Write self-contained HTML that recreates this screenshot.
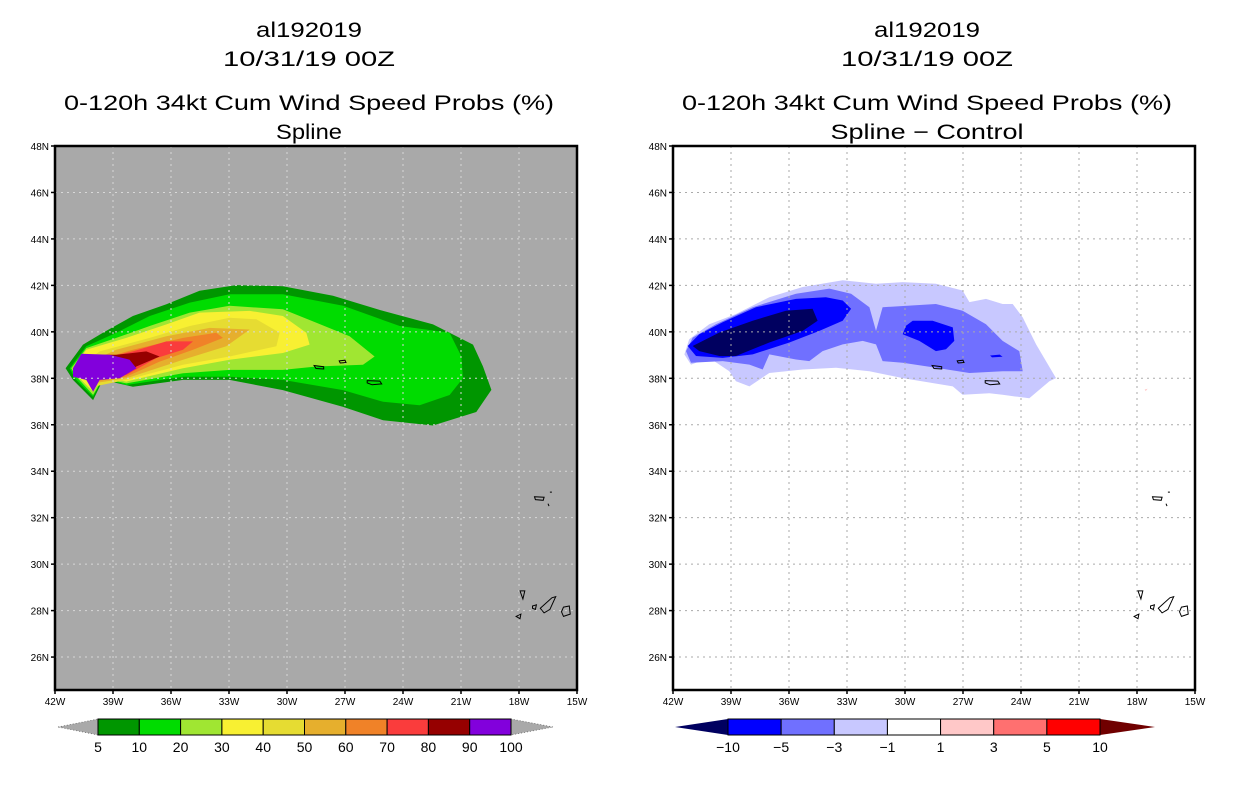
<!DOCTYPE html>
<html><head><meta charset="utf-8"><style>
html,body{margin:0;padding:0;background:#fff;}
svg{display:block;font-family:"Liberation Sans",sans-serif;}
</style></head><body>
<svg id="chart" width="1236" height="800" viewBox="0 0 1236 800" xmlns="http://www.w3.org/2000/svg"></svg>
<script>
// ---- data (lon, lat in degrees; negative lon = W) ----
const lonTicks = [-42,-39,-36,-33,-30,-27,-24,-21,-18,-15];
const latTicks = [26,28,30,32,34,36,38,40,42,44,46,48];
const lonTickLabels = ["42W","39W","36W","33W","30W","27W","24W","21W","18W","15W"];
const latTickLabels = ["26N","28N","30N","32N","34N","36N","38N","40N","42N","44N","46N","48N"];

const probLevels = [5,10,20,30,40,50,60,70,80,90,100];
const probColors = ["#009600","#00dc00","#a0e632","#f8f032","#e6dc32","#e6af2d","#f08228","#fa3c3c","#960000","#8200dc"];
const prob5 = [[-41.45,38.43],[-40.55,39.45],[-39.52,39.96],[-37.97,40.68],[-36.24,41.19],[-34.52,41.77],[-32.62,42.01],[-30.21,41.96],[-27.62,41.55],[-25.03,40.9],[-22.45,40.32],[-20.38,39.45],[-19.86,38.51],[-19.43,37.5],[-20.21,36.55],[-22.45,35.97],[-25.03,36.19],[-27.1,36.77],[-30.21,37.49],[-32.97,37.93],[-35.38,37.93],[-37.97,37.64],[-39.52,37.93],[-40.03,37.06],[-41.07,37.93]];
const prob10 = [[-41.24,38.43],[-40.38,39.38],[-38.83,39.96],[-37.1,40.68],[-35.03,41.26],[-32.97,41.62],[-30.21,41.62],[-27.1,41.12],[-24.17,40.25],[-21.59,39.96],[-20.98,38.94],[-20.9,38.0],[-21.59,37.28],[-23.14,36.84],[-25.03,36.99],[-27.1,37.49],[-30.21,37.93],[-32.97,38.07],[-35.38,38.07],[-38.31,37.71],[-39.52,38.0],[-40.03,37.2],[-40.98,38.0]];
const prob20 = [[-41.16,38.43],[-40.38,39.3],[-38.83,39.74],[-37.1,40.25],[-35.03,40.83],[-32.97,41.12],[-30.21,40.97],[-28.48,40.39],[-26.76,39.81],[-25.47,38.94],[-26.07,38.58],[-28.48,38.51],[-30.21,38.36],[-32.97,38.36],[-35.38,38.22],[-38.31,37.78],[-39.52,38.0],[-40.03,37.28],[-40.9,38.07]];
const prob30 = [[-41.07,38.43],[-40.38,39.23],[-38.31,39.74],[-36.24,40.32],[-34.52,40.83],[-31.93,40.9],[-30.21,40.68],[-29.0,39.96],[-28.83,39.45],[-30.21,39.09],[-32.97,38.8],[-35.38,38.43],[-38.31,37.86],[-39.52,38.07],[-40.03,37.42],[-40.81,38.07]];
const prob40 = [[-40.9,38.43],[-39.69,39.16],[-37.1,39.74],[-35.03,40.25],[-32.97,40.61],[-31.59,40.54],[-30.38,39.96],[-30.55,39.38],[-32.97,38.94],[-35.38,38.58],[-38.31,37.93],[-40.03,37.64],[-40.72,38.14]];
const prob50 = [[-40.72,38.51],[-38.83,39.23],[-36.24,39.81],[-34.0,40.17],[-31.93,40.1],[-33.14,39.38],[-35.38,38.8],[-38.31,38.0],[-40.03,37.78],[-40.64,38.22]];
const prob60 = [[-40.64,38.58],[-37.97,39.23],[-35.38,39.74],[-33.66,39.96],[-33.31,39.74],[-34.86,39.23],[-36.59,38.72],[-38.31,38.07],[-40.03,37.86],[-40.55,38.29]];
const prob70 = [[-40.55,38.65],[-37.97,39.16],[-36.24,39.59],[-34.86,39.59],[-35.38,39.23],[-36.76,38.87],[-38.31,38.14],[-40.03,37.93],[-40.5,38.33]];
const prob80 = [[-40.47,39.01],[-38.83,39.01],[-37.28,39.16],[-36.59,38.94],[-37.79,38.51],[-38.57,38.07],[-40.03,37.96],[-40.47,38.36]];
const prob90 = [[-41.07,38.43],[-40.64,39.06],[-39.17,39.01],[-38.14,38.8],[-37.79,38.43],[-38.66,38.0],[-39.69,37.93],[-40.03,37.42],[-40.38,37.93],[-41.07,38.07]];
const probSeries = [prob5,prob10,prob20,prob30,prob40,prob50,prob60,prob70,prob80,prob90];

const diffLevels = [-10,-5,-3,-1,1,3,5,10];
const diffColors = ["#000060","#0000ff","#7070ff","#c8c8ff","#ffffff","#ffc8c8","#ff7070","#ff0000","#700000"];
const diffM1 = [[-41.41,39.03],[-41.16,39.68],[-40.12,40.33],[-38.74,40.77],[-37.02,41.49],[-35.29,41.93],[-33.22,42.22],[-31.5,42.07],[-30.12,42.14],[-28.4,42.07],[-27.02,41.78],[-26.67,41.28],[-25.81,41.42],[-24.95,41.2],[-24.43,41.2],[-23.91,40.62],[-23.22,39.46],[-22.19,38.01],[-22.53,37.87],[-23.57,37.14],[-24.95,37.29],[-25.64,37.36],[-27.02,37.29],[-27.53,37.65],[-30.12,38.01],[-31.84,38.3],[-33.57,38.45],[-35.29,38.38],[-37.02,38.23],[-38.05,37.65],[-38.74,37.87],[-39.09,38.3],[-40.12,38.88],[-41.07,38.59]];
const diffM3 = [[-41.33,39.17],[-40.98,39.75],[-39.78,40.33],[-37.88,41.06],[-35.64,41.64],[-33.91,41.86],[-32.79,41.64],[-31.84,41.06],[-31.5,40.04],[-31.16,41.06],[-28.4,41.2],[-27.02,40.91],[-25.81,40.33],[-24.95,39.61],[-24.09,39.17],[-23.91,38.3],[-24.95,38.3],[-26.67,38.23],[-28.4,38.45],[-30.12,38.67],[-31.16,38.74],[-31.5,39.46],[-32.19,39.61],[-33.22,39.46],[-34.26,39.17],[-34.95,38.74],[-35.64,38.81],[-37.02,39.03],[-37.36,38.38],[-38.05,38.59],[-39.43,38.74],[-41.07,38.67]];
const diffM5a = [[-41.24,39.39],[-40.64,39.9],[-39.43,40.41],[-37.71,41.06],[-35.64,41.42],[-34.09,41.49],[-33.22,41.35],[-32.79,40.99],[-33.22,40.48],[-34.43,40.04],[-35.98,39.54],[-37.88,39.03],[-39.43,38.88],[-40.81,38.96]];
const diffM5b = [[-29.95,40.26],[-29.6,40.48],[-28.57,40.48],[-27.53,40.19],[-27.45,39.61],[-27.88,39.25],[-28.4,39.17],[-29.26,39.61],[-30.12,39.9]];
const diffM5c = [[-25.6,38.98],[-25.1,39.02],[-24.95,38.93],[-25.5,38.9]];
const diffM10 = [[-40.98,39.39],[-39.6,39.97],[-37.88,40.48],[-36.16,40.91],[-34.78,40.99],[-34.52,40.48],[-35.29,40.04],[-37.02,39.54],[-38.74,38.96],[-39.6,38.96],[-40.64,39.17]];
const diffPos = [[-17.6,37.52],[-17.45,37.55],[-17.55,37.45]];
const diffSeries = [diffM1,diffM3,diffM5a,diffM5b,diffM5c,diffM10];
const diffSeriesColors = ["#c8c8ff","#7070ff","#0000ff","#0000ff","#0000ff","#000060"];

const islands = [
 [[-28.6,38.55],[-28.1,38.5],[-28.1,38.4],[-28.5,38.42]],
 [[-27.3,38.75],[-27.0,38.78],[-26.95,38.68],[-27.25,38.66]],
 [[-25.85,37.9],[-25.2,37.88],[-25.1,37.76],[-25.6,37.72],[-25.85,37.8]],
 [[-17.2,32.9],[-16.7,32.88],[-16.75,32.75],[-17.15,32.78]],
 [[-16.4,33.1],[-16.3,33.1]],
 [[-16.5,32.6],[-16.45,32.5]],
 [[-17.95,28.85],[-17.7,28.85],[-17.8,28.5]],
 [[-17.3,28.2],[-17.1,28.25],[-17.15,28.05],[-17.3,28.1]],
 [[-16.9,28.1],[-16.3,28.55],[-16.1,28.6],[-16.4,28.05],[-16.7,27.9]],
 [[-15.7,28.15],[-15.4,28.2],[-15.35,27.85],[-15.7,27.75],[-15.8,27.95]],
 [[-18.15,27.75],[-17.9,27.85],[-17.95,27.65]]
];

const NS = "http://www.w3.org/2000/svg";
const svg = document.getElementById("chart");
function mk(tag, attrs, parent){const e=document.createElementNS(NS,tag);for(const k in attrs)e.setAttribute(k,attrs[k]);(parent||svg).appendChild(e);return e;}

const Y0=146, Y1=690, latTop=48, latPx=23.23;
const lonMin=-42, lonMax=-15;
function yScale(lat){return Y0+(latTop-lat)*latPx;}
function makeX(x0,x1){return lon=>x0+(lon-lonMin)/(lonMax-lonMin)*(x1-x0);}
function pts(poly,xs){return poly.map(p=>xs(p[0]).toFixed(1)+","+yScale(p[1]).toFixed(1)).join(" ");}

function panel(px0, px1, bg, gridColor, cx, title4, t4w, name){
  const g=mk("g",{});
  
  
  const xs=makeX(px0,px1);
  const defs=mk("clipPath",{id:"clip-"+name},g);
  mk("rect",{x:px0,y:Y0,width:px1-px0,height:Y1-Y0},defs);
  const bgr=mk("rect",{x:px0,y:Y0,width:px1-px0,height:Y1-Y0,fill:bg},g);
  
  
  const titles=["al192019","10/31/19 00Z","0-120h 34kt Cum Wind Speed Probs (%)",title4];
  const ty=[37,66,110,139], tw=[106,172,490,t4w];
  titles.forEach((t,i)=>{
    const te=mk("text",{x:cx,y:ty[i],"text-anchor":"middle","font-size":"21",fill:"#000",textLength:tw[i],lengthAdjust:"spacingAndGlyphs"},g);
    te.textContent=t;
    
    
  });
  return {g,xs};
}
function gridAxes(P,px0,px1,gridColor){
  const {g,xs}=P;
  lonTicks.forEach((lo,i)=>{
    const x=xs(lo);
    if(i>0&&i<lonTicks.length-1){const l=mk("line",{x1:x,y1:Y0,x2:x,y2:Y1,stroke:gridColor,"stroke-width":1,"stroke-dasharray":"2,4"},g);
      
      }
    mk("line",{x1:x,y1:Y1,x2:x,y2:Y1+4,stroke:"#000","stroke-width":1.5},g);
    const t=mk("text",{x:x,y:Y1+15,"text-anchor":"middle","font-size":"10",fill:"#000"},g);
    t.textContent=lonTickLabels[i];
    
    
  });
  latTicks.forEach((la,i)=>{
    const y=yScale(la);
    if(la<48){const l=mk("line",{x1:px0,y1:y,x2:px1,y2:y,stroke:gridColor,"stroke-width":1,"stroke-dasharray":"2,4"},g);
      
      }
    mk("line",{x1:px0-4,y1:y,x2:px0,y2:y,stroke:"#000","stroke-width":1.5},g);
    const t=mk("text",{x:px0-6,y:y+4,"text-anchor":"end","font-size":"10",fill:"#000"},g);
    t.textContent=latTickLabels[i];
    
    
  });
  islands.forEach(is=>{
    const p=mk("polygon",{points:pts(is,xs),fill:"none",stroke:"#000","stroke-width":1},g);
    
    
  });
  const f=mk("rect",{x:px0,y:Y0,width:px1-px0,height:Y1-Y0,fill:"none",stroke:"#000","stroke-width":2.5},g);
  
  
}

// Left panel
const L=panel(55,577,"#a9a9a9","#cfcfcf",309,"Spline",66,"left-panel");
probSeries.forEach((poly,i)=>{
  const p=mk("polygon",{points:pts(poly,L.xs),fill:probColors[i],"clip-path":"url(#clip-left-panel)"},L.g);
  
  
});
gridAxes(L,55,577,"#d8d8d8");

// Right panel
const R=panel(673,1195,"#ffffff","#aaaaaa",927,"Spline − Control",193,"right-panel");
diffSeries.forEach((poly,i)=>{
  const p=mk("polygon",{points:pts(poly,R.xs),fill:diffSeriesColors[i]},R.g);
  
  
});
{const p=mk("polygon",{points:pts(diffPos,R.xs),fill:"#ffc8c8"},R.g);
 
 }
gridAxes(R,673,1195,"#aaaaaa");

// Colorbars
function colorbar(x0,x1,tipL,tipR,colors,labels,leftArrow,rightArrow,name){
  const g=mk("g",{});
  
  
  const yA=719,yB=735,ym=727,n=colors.length,w=(x1-x0)/n;
  const a1=mk("polygon",{points:`${tipL},${ym} ${x0},${yA} ${x0},${yB}`,fill:leftArrow,stroke:leftArrow=="#a9a9a9"?"#666":"none","stroke-dasharray":"1,2","stroke-width":0.8},g);
  
  
  const a2=mk("polygon",{points:`${tipR},${ym} ${x1},${yA} ${x1},${yB}`,fill:rightArrow,stroke:rightArrow=="#a9a9a9"?"#666":"none","stroke-dasharray":"1,2","stroke-width":0.8},g);
  
  
  colors.forEach((c,i)=>{
    const r=mk("rect",{x:x0+i*w,y:yA,width:w,height:yB-yA,fill:c,stroke:"#000","stroke-width":1},g);
    
    
  });
  labels.forEach((l,i)=>{
    const t=mk("text",{x:x0+i*w,y:752,"text-anchor":"middle","font-size":"14",fill:"#000"},g);
    t.textContent=String(l).replace("-","−");
    
    
  });
}
colorbar(98,511,58,553,probColors,probLevels,"#a9a9a9","#a9a9a9","prob-colorbar");
colorbar(728,1100,675,1155,diffColors.slice(1,8),diffLevels,"#000060","#700000","diff-colorbar");
</script>
</body></html>
